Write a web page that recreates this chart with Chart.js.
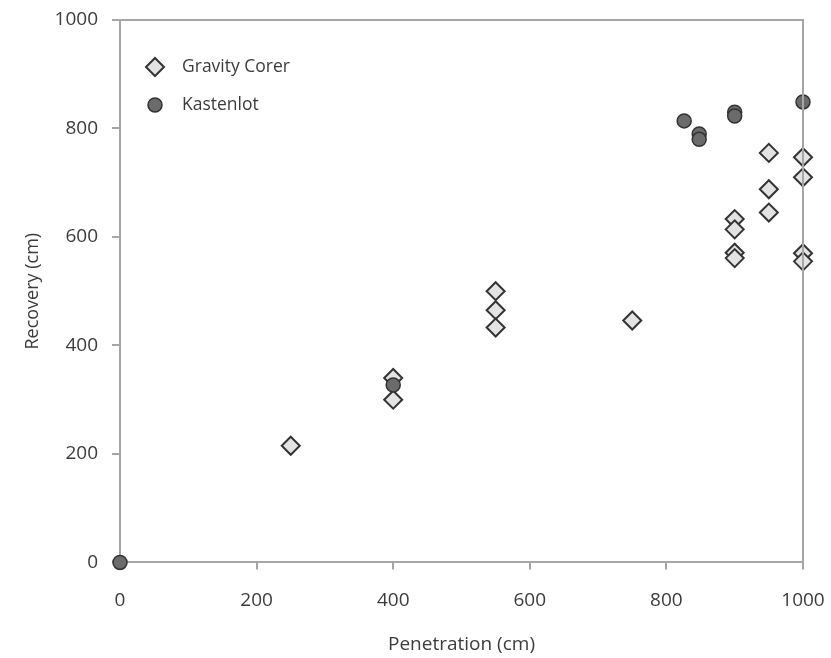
<!DOCTYPE html>
<html>
<head>
<meta charset="utf-8">
<script src="https://cdn.jsdelivr.net/npm/chart.js@4/dist/chart.umd.min.js"></script>
<style>
  html, body { margin: 0; padding: 0; background: #fff; }
  #wrap { width: 831px; height: 658px; }
</style>
</head>
<body>
<div id="wrap"><canvas id="grafico" width="831" height="658"></canvas></div>
<script>
// valores
const gravityX = [250, 400, 400, 550, 550, 550, 750, 900, 900, 900, 900, 950, 950, 950, 1000, 1000, 1000, 1000];
const gravityY = [215, 340, 300, 500, 465, 433, 446, 633, 614, 571, 561, 755, 688, 645, 747, 710, 570, 555];
const kastenX = [0, 400, 826, 848, 848, 900, 900, 1000];
const kastenY = [0, 327, 814, 790, 780, 830, 823, 849];
const seriesNames = ['Gravity Corer', 'Kastenlot'];
const axisTicks = [0, 200, 400, 600, 800, 1000];

const corTexto = '#3c3c3c';
const corEixo = '#a6a6a6';
const fonte = { family: '"Open Sans", sans-serif', size: 19 };

const toPoints = (xs, ys) => xs.map((x, i) => ({ x: x, y: ys[i] }));

// moldura superior/direita + legenda dentro da área
const moldura = {
    id: 'moldura',
    afterDatasetsDraw(chart) {
        const { ctx, chartArea: a } = chart;
        ctx.save();
        ctx.strokeStyle = corEixo;
        ctx.lineWidth = 2;
        ctx.beginPath();
        ctx.moveTo(a.left, a.top);
        ctx.lineTo(a.right, a.top);
        ctx.lineTo(a.right, a.bottom);
        ctx.stroke();

        // legenda
        const lx = a.left + 35, ly1 = a.top + 47, ly2 = a.top + 85;
        ctx.lineWidth = 2;
        ctx.strokeStyle = '#333';
        ctx.fillStyle = '#e3e3e3';
        ctx.beginPath();
        ctx.moveTo(lx - 9, ly1);
        ctx.lineTo(lx, ly1 - 9);
        ctx.lineTo(lx + 9, ly1);
        ctx.lineTo(lx, ly1 + 9);
        ctx.closePath();
        ctx.fill();
        ctx.stroke();
        ctx.fillStyle = '#6b6b6b';
        ctx.lineWidth = 1.5;
        ctx.beginPath();
        ctx.arc(lx, ly2, 7, 0, Math.PI * 2);
        ctx.fill();
        ctx.stroke();

        ctx.fillStyle = corTexto;
        ctx.font = '17.5px "Open Sans", sans-serif';
        ctx.textBaseline = 'middle';
        ctx.fillText(seriesNames[0], lx + 27, ly1);
        ctx.fillText(seriesNames[1], lx + 27, ly2);
        ctx.restore();
    }
};

const ctx = document.getElementById('grafico').getContext('2d');

const chart = new Chart(ctx, {
    type: 'scatter',
    data: {
        datasets: [
            {
                label: seriesNames[0],
                data: toPoints(gravityX, gravityY),
                pointStyle: 'rectRot',
                pointRadius: 9,
                borderWidth: 2,
                borderColor: '#333',
                backgroundColor: '#e3e3e3',
                clip: false,
                order: 1
            },
            {
                label: seriesNames[1],
                data: toPoints(kastenX, kastenY),
                pointStyle: 'circle',
                pointRadius: 7,
                borderWidth: 1.5,
                borderColor: '#333',
                backgroundColor: '#6b6b6b',
                clip: false,
                order: 0
            }
        ]
    },
    options: {
        responsive: false,
        animation: false,
        layout: {
            padding: { top: 20, right: 28, bottom: 2, left: 0 }
        },
        scales: {
            x: {
                type: 'linear',
                min: 0,
                max: 1000,
                afterBuildTicks: s => { s.ticks = axisTicks.map(v => ({ value: v })); },
                afterFit: s => { s.paddingLeft = 0; s.paddingRight = 0; },
                ticks: { color: corTexto, font: fonte, padding: 19.5, maxRotation: 0, callback: v => String(v) },
                grid: { drawOnChartArea: false, drawTicks: true, tickLength: 7, color: corEixo, lineWidth: 2 },
                border: { color: corEixo, width: 2 },
                title: { display: true, text: 'Penetration (cm)', color: corTexto, font: fonte, padding: { top: 2, bottom: 0 } }
            },
            y: {
                type: 'linear',
                min: 0,
                max: 1000,
                afterBuildTicks: s => { s.ticks = axisTicks.map(v => ({ value: v })); },
                afterFit: s => { s.width = 120; s.paddingTop = 0; s.paddingBottom = 0; },
                ticks: { color: corTexto, font: fonte, padding: 14, callback: v => String(v) },
                grid: { drawOnChartArea: false, drawTicks: true, tickLength: 8, color: corEixo, lineWidth: 2 },
                border: { color: corEixo, width: 2 },
                title: { display: true, text: 'Recovery (cm)', color: corTexto, font: { family: fonte.family, size: 18 }, padding: { top: 22, bottom: 0 } }
            }
        },
        plugins: {
            legend: { display: false },
            tooltip: { enabled: false }
        }
    },
    plugins: [moldura]
});
</script>
</body>
</html>
